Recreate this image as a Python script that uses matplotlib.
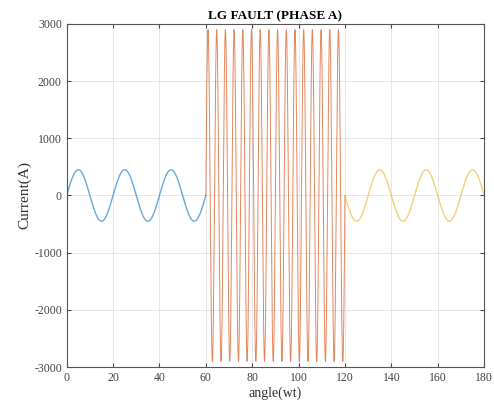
import numpy as np
import matplotlib
matplotlib.use("Agg")
import matplotlib.pyplot as plt

# segments of the phase A current
seg_names = ["pre-fault", "fault", "post-fault"]
seg_start = [0, 60, 120]          # angle(wt)
seg_end = [60, 120, 180]
seg_amp = [450, 2900, 450]        # peak current (A)
seg_period = [20, 3.75, 20]       # in angle units
seg_sign = [1, 1, -1]
seg_colors = ["#0072BD", "#D95319", "#EDB120"]

x_ticks = list(range(0, 181, 20))
y_ticks = list(range(-3000, 3001, 1000))

plt.rcParams["font.family"] = ["Liberation Serif", "DejaVu Serif"]
plt.rcParams["axes.unicode_minus"] = False

fig = plt.figure(figsize=(4.94, 4.12), dpi=100)
ax = fig.add_axes([0.135, 0.109, 0.845, 0.833])

for name, a, b, amp, per, sg, c in zip(seg_names, seg_start, seg_end, seg_amp,
                                        seg_period, seg_sign, seg_colors):
    t = np.linspace(a, b, 2000)
    y = sg * amp * np.sin(2 * np.pi * (t - a) / per)
    if name == "fault":
        ax.plot(t, y, color=c, linewidth=0.7, alpha=0.7)
    else:
        ax.plot(t, y, color=c, linewidth=1.0, alpha=0.6)

ax.set_xlim(0, 180)
ax.set_ylim(-3000, 3000)
ax.set_xticks(x_ticks)
ax.set_yticks(y_ticks)
ax.tick_params(direction="in", labelsize=8.5, colors="#444444", length=3,
               top=True, right=True)
ax.grid(True, color="#e6e6e6", linewidth=0.7)
for s in ax.spines.values():
    s.set_color("#555555")
    s.set_linewidth(0.8)

ax.set_title("LG FAULT (PHASE A)", fontsize=9.5, fontweight="bold", pad=3)
ax.set_xlabel("angle(wt)", fontsize=10, color="#333333", labelpad=2)
ax.set_ylabel("Current(A)", fontsize=11, color="#333333", labelpad=2)

fig.savefig("out.png", dpi=100)
